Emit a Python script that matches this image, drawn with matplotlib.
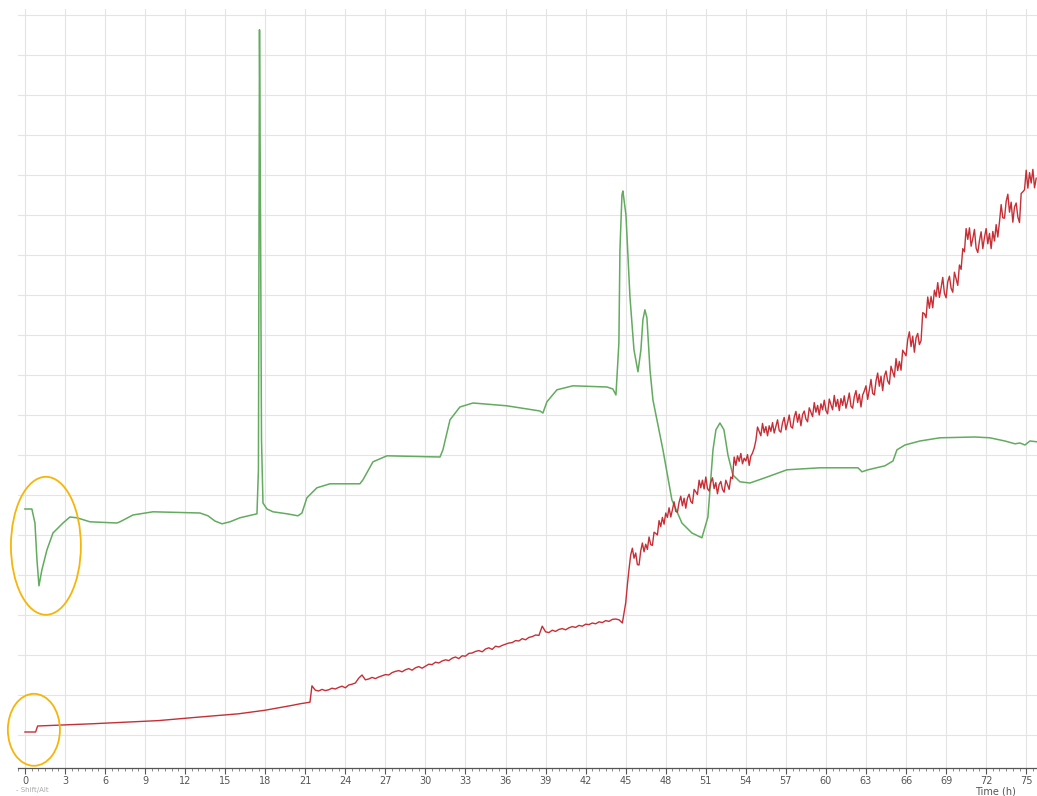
import numpy as np
import matplotlib
matplotlib.use("Agg")
import matplotlib.pyplot as plt
from matplotlib.patches import Ellipse
from matplotlib.ticker import MultipleLocator

# ---------------- data (time in hours, signal in arbitrary units) ----------------
green_t = [0.00, 0.52, 0.75, 0.90, 1.05, 1.27, 1.65, 2.10, 2.85, 3.37, 3.90, 4.87, 6.89, 7.12,
           8.09, 9.59, 13.11, 13.71, 14.23, 14.76, 15.36, 16.10, 17.38, 17.49, 17.57, 17.64,
           17.72, 17.83, 18.13, 18.58, 19.63, 20.45, 20.75, 21.12, 21.87, 22.85, 25.09, 25.32,
           26.07, 27.12, 31.09, 31.31, 31.84, 32.58, 33.56, 36.10, 38.58, 38.80, 39.10, 39.85,
           41.05, 43.60, 44.04, 44.27, 44.42, 44.49, 44.57, 44.72, 44.79, 45.02, 45.32, 45.62,
           45.92, 46.14, 46.29, 46.44, 46.59, 46.82, 47.04, 47.79, 48.46, 49.21, 49.96, 50.71,
           51.16, 51.54, 51.76, 52.06, 52.36, 52.66, 53.03, 53.56, 54.31, 55.43, 57.08, 59.55,
           62.40, 62.70, 63.15, 64.42, 65.02, 65.32, 65.92, 67.04, 68.54, 71.16, 72.28, 73.41,
           74.16, 74.53, 74.91, 75.28, 75.81]
green_v = [6.65, 6.65, 6.30, 5.38, 4.73, 5.13, 5.63, 6.05, 6.30, 6.45, 6.43, 6.33, 6.30, 6.33,
           6.50, 6.58, 6.55, 6.48, 6.35, 6.28, 6.33, 6.43, 6.53, 7.63, 18.63, 14.38,
           8.38, 6.80, 6.65, 6.58, 6.53, 6.48, 6.55, 6.93, 7.18, 7.28, 7.28, 7.38,
           7.83, 7.98, 7.95, 8.13, 8.88, 9.20, 9.30, 9.23, 9.10, 9.05, 9.33, 9.63,
           9.73, 9.70, 9.65, 9.50, 10.38, 10.80, 13.13, 14.50, 14.60, 14.00, 11.95, 10.63,
           10.08, 10.63, 11.38, 11.63, 11.43, 10.13, 9.38, 8.13, 6.88, 6.30, 6.05, 5.93,
           6.45, 8.13, 8.63, 8.80, 8.63, 8.00, 7.50, 7.33, 7.30, 7.43, 7.63, 7.68,
           7.68, 7.58, 7.63, 7.73, 7.85, 8.13, 8.25, 8.35, 8.43, 8.45, 8.43, 8.35,
           8.28, 8.30, 8.25, 8.35, 8.33]

# red: smooth early part
red_t_early = [0.00, 0.80, 0.95, 5.0, 10.0, 13.1, 16.0, 18.0, 20.0, 20.6, 21.35]
red_v_early = [1.075, 1.075, 1.225, 1.28, 1.36, 1.45, 1.53, 1.62, 1.74, 1.78, 1.82]

# red: slightly noisy part, every 0.25 h from 21.5 h to 44.75 h (one row = 3 h)
red_v_mid = [
    2.23, 2.12, 2.10, 2.14, 2.11, 2.13, 2.17, 2.15, 2.19, 2.22, 2.18, 2.25,
    2.27, 2.30, 2.42, 2.50, 2.38, 2.40, 2.44, 2.41, 2.45, 2.48, 2.51, 2.50,
    2.56, 2.59, 2.61, 2.58, 2.63, 2.66, 2.62, 2.68, 2.71, 2.67, 2.72, 2.77,
    2.76, 2.82, 2.80, 2.85, 2.88, 2.86, 2.92, 2.95, 2.91, 2.98, 2.97, 3.04,
    3.05, 3.09, 3.11, 3.08, 3.15, 3.18, 3.14, 3.22, 3.20, 3.24, 3.27, 3.30,
    3.31, 3.36, 3.35, 3.41, 3.38, 3.44, 3.46, 3.50, 3.49, 3.72, 3.58, 3.56,
    3.62, 3.59, 3.64, 3.66, 3.63, 3.68, 3.71, 3.69, 3.74, 3.72, 3.77, 3.76,
    3.80, 3.78, 3.83, 3.81, 3.86, 3.84, 3.89, 3.90, 3.88, 3.80,
]
red_t_mid = np.arange(21.5, 44.8, 0.25)

# red: strongly noisy part, every 0.125 h from 45.0 h to 75.75 h (one row = 3 h)
red_v_late = [
    4.30, 4.75, 5.15, 5.50, 5.67, 5.42, 5.55, 5.26, 5.25, 5.60, 5.80, 5.58,
    5.77, 5.64, 5.95, 5.76, 5.74, 6.07, 6.04, 6.00, 6.36, 6.21, 6.44, 6.27,
    6.55, 6.44, 6.68, 6.45, 6.63, 6.83, 6.59, 6.57, 6.82, 6.97, 6.73, 6.92,
    6.67, 6.92, 7.02, 6.84, 6.79, 7.14, 7.08, 7.01, 7.37, 7.18, 7.37, 7.15,
    7.45, 7.16, 7.10, 7.32, 7.43, 7.16, 7.31, 7.03, 7.26, 7.34, 7.14, 7.07,
    7.37, 7.26, 7.14, 7.45, 7.41, 7.95, 7.74, 7.98, 7.84, 8.04, 7.78, 7.92,
    7.85, 8.01, 7.74, 7.97, 8.05, 8.17, 8.36, 8.70, 8.59, 8.48, 8.79, 8.56,
    8.71, 8.48, 8.73, 8.59, 8.81, 8.55, 8.71, 8.88, 8.61, 8.57, 8.81, 8.94,
    8.63, 8.80, 9.00, 8.71, 8.67, 8.95, 9.09, 8.82, 9.02, 8.73, 9.01, 9.10,
    8.90, 8.83, 9.18, 9.07, 8.96, 9.31, 9.07, 9.24, 9.00, 9.28, 9.13, 9.37,
    9.11, 9.03, 9.40, 9.26, 9.13, 9.49, 9.21, 9.39, 9.11, 9.41, 9.24, 9.48,
    9.17, 9.34, 9.55, 9.22, 9.17, 9.46, 9.61, 9.31, 9.52, 9.20, 9.50, 9.60,
    9.73, 9.39, 9.63, 9.89, 9.54, 9.50, 9.85, 10.05, 9.72, 9.97, 9.61, 9.97,
    10.10, 9.85, 9.77, 10.22, 10.08, 9.95, 10.41, 10.11, 10.34, 10.12, 10.62, 10.55,
    10.48, 10.88, 11.08, 10.71, 10.97, 10.57, 10.93, 11.04, 10.76, 10.86, 11.56, 11.53,
    11.43, 11.95, 11.67, 11.96, 11.68, 12.12, 11.96, 12.31, 11.94, 12.18, 12.44, 12.04,
    11.93, 12.33, 12.47, 12.17, 12.07, 12.57, 12.41, 12.24, 12.75, 12.64, 13.16, 13.08,
    13.66, 13.39, 13.68, 13.22, 13.41, 13.64, 13.17, 13.06, 13.36, 13.58, 13.16, 13.44,
    13.66, 13.28, 13.54, 13.16, 13.59, 13.35, 13.76, 13.45, 13.83, 14.26, 13.93, 13.92,
    14.34, 14.52, 14.07, 14.32, 13.82, 14.20, 14.30, 13.95, 13.81, 14.54, 14.58, 14.63,
    15.12, 14.67, 15.06, 14.80, 15.14, 14.68, 14.92,
]
red_t_late = np.arange(45.0, 75.76, 0.125)

x_ticks = list(range(0, 76, 3))
x_label = "Time (h)"
corner_label = "- Shift/Alt"

# ---------------- figure ----------------
fig = plt.figure(figsize=(10.37, 7.96), dpi=100)
ax = fig.add_axes([18 / 1037, 28 / 796, 1 - 18 / 1037, 1 - 37 / 796])
ax.set_facecolor("white")

ax.set_xlim(-0.52, 75.81)
ax.set_ylim(0.175, 19.15)

ax.set_xticks(x_ticks)
ax.xaxis.set_minor_locator(MultipleLocator(0.5))
ax.set_yticks(range(1, 20))
ax.tick_params(axis="y", left=False, labelleft=False)
ax.tick_params(axis="x", which="major", length=4, width=0.8, color="#555555",
               labelsize=7, labelcolor="#555555", pad=2)
ax.tick_params(axis="x", which="minor", length=2, width=0.6, color="#777777")

ax.grid(True, which="major", color="#e4e4e4", linewidth=0.8)
ax.set_axisbelow(True)
for s in ("left", "top", "right"):
    ax.spines[s].set_visible(False)
ax.spines["bottom"].set_color("#555555")
ax.spines["bottom"].set_linewidth(0.9)

n_mid = min(len(red_t_mid), len(red_v_mid))
n_late = min(len(red_t_late), len(red_v_late))
red_t = list(red_t_early) + list(red_t_mid[:n_mid]) + list(red_t_late[:n_late])
red_v = list(red_v_early) + list(red_v_mid[:n_mid]) + list(red_v_late[:n_late])

ax.plot(green_t, green_v, color="#62ab5f", linewidth=1.1, zorder=3)
ax.plot(red_t, red_v, color="#c62f36", linewidth=1.0, zorder=4)

# highlight ellipses
ax.add_patch(Ellipse((1.57, 5.73), 5.24, 3.45, fill=False, edgecolor="#f5b50a",
                     linewidth=1.3, zorder=5, clip_on=False))
ax.add_patch(Ellipse((0.67, 1.13), 3.9, 1.8, fill=False, edgecolor="#f5b50a",
                     linewidth=1.3, zorder=5, clip_on=False))

fig.text(995 / 1037, 1 - 792 / 796, x_label, fontsize=7, color="#555555",
         ha="center", va="center")
fig.text(16 / 1037, 1 - 790 / 796, corner_label, fontsize=5, color="#aaaaaa",
         ha="left", va="center")

fig.savefig("out.png", dpi=100)
